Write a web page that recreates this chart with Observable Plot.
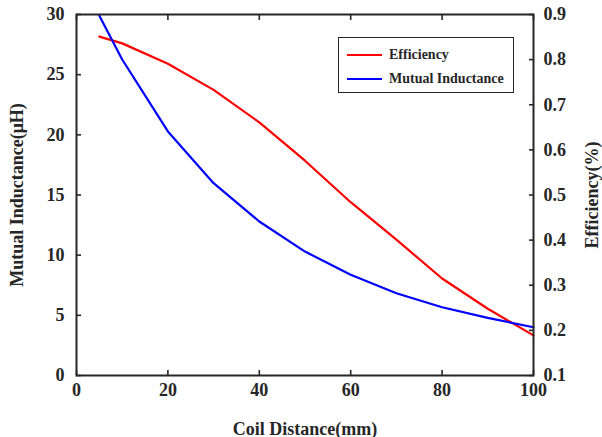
<!DOCTYPE html>
<html>
<head>
<meta charset="utf-8">
<script src="https://cdn.jsdelivr.net/npm/d3@7"></script>
<script src="https://cdn.jsdelivr.net/npm/@observablehq/plot@0.6"></script>
<style>
  body { margin: 0; background: #fff; }
  #chart { position: relative; width: 602px; height: 437px; font-family: "Liberation Serif", "Times New Roman", serif; font-weight: bold; color: #262626; }
  #chart svg { display: block; }
  .legend { position: absolute; left: 338px; top: 37px; width: 176px; height: 56px; box-sizing: border-box; border: 1px solid #262626; background: #fff; }
  .legend .item { position: absolute; left: 8px; height: 16px; display: flex; align-items: center; font-size: 14px; white-space: nowrap; }
  .legend .swatch { width: 35px; height: 2.5px; margin-right: 7px; }
</style>
</head>
<body>
<div id="chart"></div>
<script>
// Coil distance (mm) at which both quantities were measured
const distance = [5, 10, 20, 30, 40, 50, 60, 70, 80, 90, 100];
// Transfer efficiency (right axis)
const efficiency = [0.851, 0.836, 0.791, 0.733, 0.661, 0.576, 0.484, 0.401, 0.315, 0.248, 0.189];
// Mutual inductance in µH (left axis)
const inductance = [29.9, 26.26, 20.28, 15.98, 12.8, 10.3, 8.37, 6.84, 5.67, 4.79, 4.01];

const xTicks = [0, 20, 40, 60, 80, 100];
const inductanceTicks = [0, 5, 10, 15, 20, 25, 30];
const efficiencyTicks = [0.1, 0.2, 0.3, 0.4, 0.5, 0.6, 0.7, 0.8, 0.9];

const seriesNames = ["Efficiency", "Mutual Inductance"];
const seriesColors = ["#ff0000", "#0000ff"];

// The right axis (efficiency 0.1–0.9) shares the frame with the left one (0–30 µH)
const effDomain = [0.1, 0.9];
const indDomain = [0, 30];
const toL = (e) => indDomain[0] + (e - effDomain[0]) / (effDomain[1] - effDomain[0]) * (indDomain[1] - indDomain[0]);
const fromL = (v) => effDomain[0] + (v - indDomain[0]) / (indDomain[1] - indDomain[0]) * (effDomain[1] - effDomain[0]);

const rows = distance.map((d, i) => ({d, eff: efficiency[i], ind: inductance[i]}));

const axisColor = "#262626";

const chart = Plot.plot({
  width: 602,
  height: 437,
  marginLeft: 76,
  marginRight: 69,
  marginTop: 14,
  marginBottom: 62,
  style: {
    fontFamily: '"Liberation Serif", "Times New Roman", serif',
    fontSize: "18px",
    fontWeight: "bold",
    color: axisColor,
    background: "white",
    overflow: "visible"
  },
  x: {domain: [0, 100]},
  y: {domain: indDomain},
  marks: [
    Plot.line(rows, {x: "d", y: (r) => toL(r.eff), stroke: seriesColors[0], strokeWidth: 2.2}),
    Plot.line(rows, {x: "d", y: "ind", stroke: seriesColors[1], strokeWidth: 2.2}),
    Plot.axisX({ticks: xTicks, tickSize: -5, tickPadding: 13, strokeWidth: 1.6, tickFormat: d3.format("d"),
      label: "Coil Distance(mm)", labelAnchor: "center", labelOffset: 59, labelArrow: "none"}),
    Plot.axisX({anchor: "top", ticks: xTicks, tickSize: -5, strokeWidth: 1.6, tickFormat: () => "", label: null}),
    Plot.axisY({ticks: inductanceTicks, tickSize: -5, tickPadding: 17, strokeWidth: 1.6, tickFormat: d3.format("d"),
      label: "Mutual Inductance(μH)", labelAnchor: "center", labelOffset: 66, labelArrow: "none"}),
    Plot.axisY({anchor: "right", ticks: efficiencyTicks.map(toL), tickSize: -5, tickPadding: 15, strokeWidth: 1.6,
      tickFormat: (v) => d3.format(".1f")(fromL(v)),
      label: "Efficiency(%)", labelAnchor: "center", labelOffset: 64, labelArrow: "none"}),
    Plot.frame({stroke: axisColor, strokeWidth: 2})
  ]
});

const root = d3.select("#chart");
root.node().appendChild(chart);

// Legend box in the upper right of the plot area
const legend = root.append("div").attr("class", "legend");
seriesNames.forEach((name, i) => {
  const item = legend.append("div").attr("class", "item").style("top", `${9 + i * 24}px`);
  item.append("div").attr("class", "swatch").style("background", seriesColors[i]);
  item.append("span").text(name);
});
</script>
</body>
</html>
